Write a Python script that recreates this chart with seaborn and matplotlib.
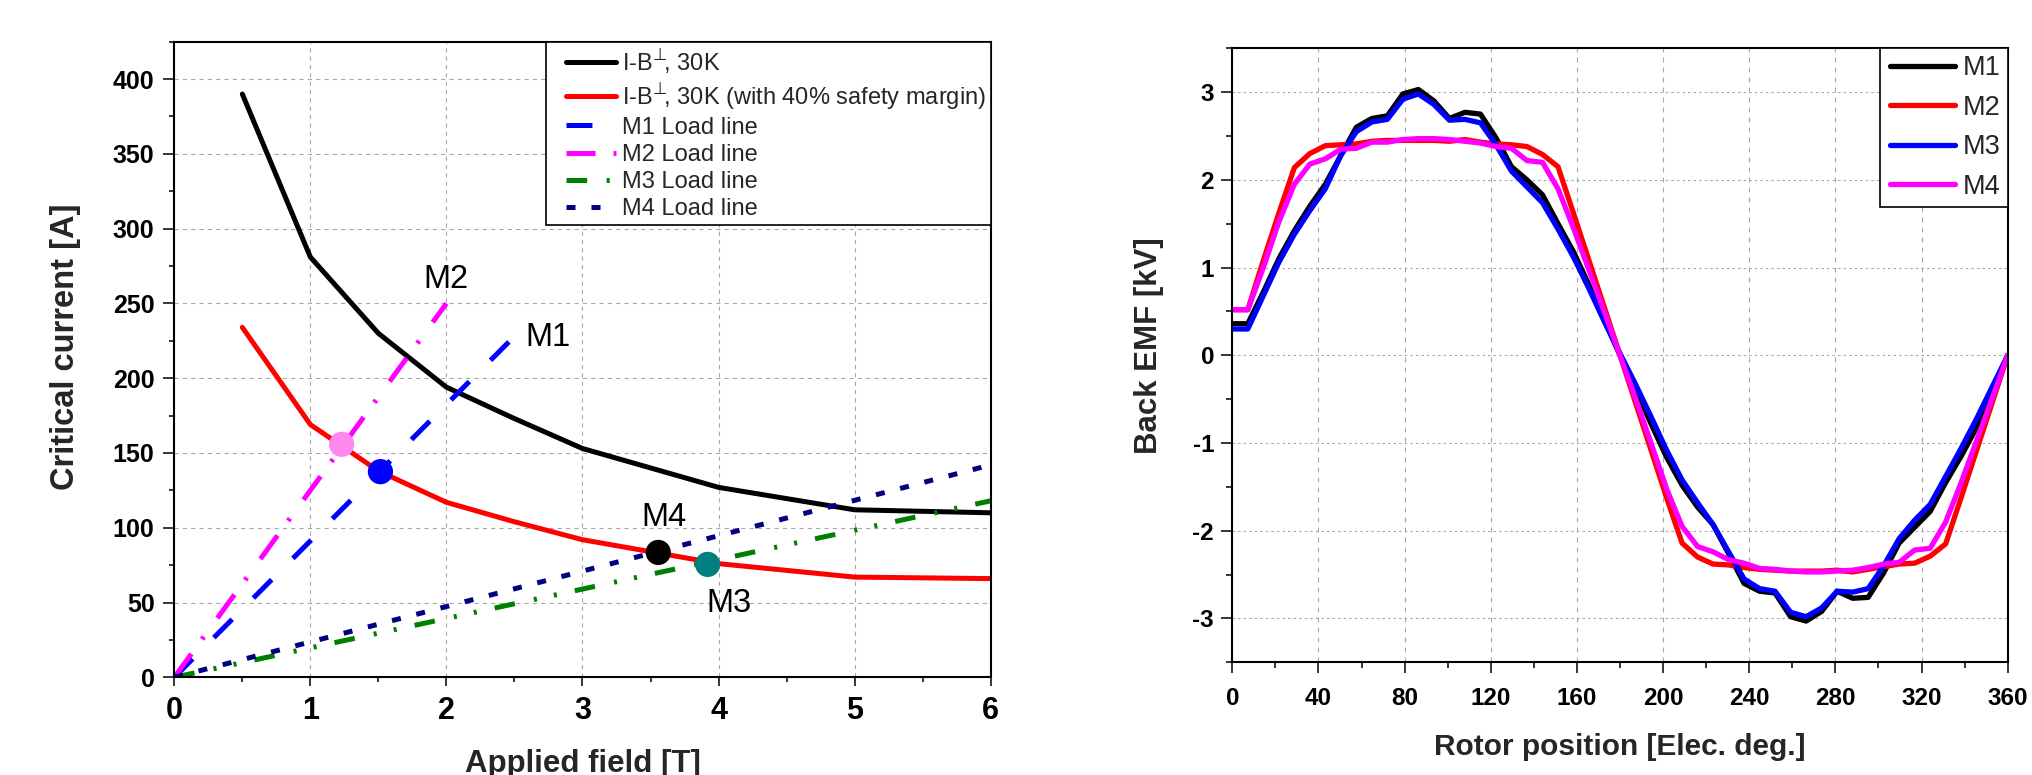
import matplotlib
matplotlib.use("Agg")
import matplotlib.pyplot as plt
import seaborn as sns
import pandas as pd
from matplotlib.lines import Line2D
from matplotlib.legend_handler import HandlerLine2D
from matplotlib.ticker import MultipleLocator

# ---------------- data: left panel ----------------
field_T = [0.5, 1, 1.5, 2, 2.5, 3, 3.5, 4, 5, 6]
ic_30K = [390, 281, 230, 194, 173, 153, 140, 127, 112, 110]
ic_30K_margin = [234, 169, 138, 117, 104, 92, 84, 76, 67, 66]

m1_load_x = [0, 2.5]
m1_load_y = [0, 228]
m2_load_x = [0, 2.0]
m2_load_y = [0, 250]
m3_load_x = [0, 6.0]
m3_load_y = [0, 118]
m4_load_x = [0, 6.0]
m4_load_y = [0, 142]

op_names = ["M1", "M2", "M3", "M4"]
op_x = [1.515, 1.23, 3.92, 3.557]
op_y = [137.5, 155.8, 75.5, 83.5]

label_x = [2.75, 2.0, 4.08, 3.6]
label_y = [227, 266, 49.6, 107]

legend_left = [
    "I-$\\mathregular{B}^{\\!\\bot}\\!\\!$, 30K",
    "I-$\\mathregular{B}^{\\!\\bot}\\!\\!$, 30K (with 40% safety margin)",
    "M1 Load line",
    "M2 Load line",
    "M3 Load line",
    "M4 Load line",
]

# ---------------- data: right panel ----------------
angle_deg = [0, 7.2, 14.4, 21.6, 28.8, 36, 43.2, 50.4, 57.6, 64.8, 72, 79.2,
             86.4, 93.6, 100.8, 108, 115.2, 122.4, 129.6, 136.8, 144, 151.2,
             158.4, 165.6, 172.8, 180, 187.2, 194.4, 201.6, 208.8, 216, 223.2,
             230.4, 237.6, 244.8, 252, 259.2, 266.4, 273.6, 280.8, 288, 295.2,
             302.4, 309.6, 316.8, 324, 331.2, 338.4, 345.6, 352.8, 360]

emf_m1 = [0.36, 0.36, 0.72, 1.10, 1.42, 1.70, 1.95, 2.28, 2.60, 2.70, 2.73, 2.98,
          3.03, 2.90, 2.70, 2.77, 2.75, 2.48, 2.15, 2.00, 1.83, 1.50, 1.18, 0.80,
          0.40, 0.00,
          -0.38, -0.78, -1.16, -1.48, -1.73, -1.93, -2.26, -2.60, -2.69, -2.71,
          -2.98, -3.03, -2.92, -2.69, -2.77, -2.76, -2.48, -2.14, -1.96, -1.78,
          -1.45, -1.15, -0.82, -0.45, 0.00]
emf_m2 = [0.52, 0.52, 1.08, 1.62, 2.14, 2.30, 2.39, 2.40, 2.41, 2.44, 2.45, 2.45,
          2.45, 2.45, 2.44, 2.46, 2.43, 2.41, 2.40, 2.38, 2.29, 2.15, 1.62, 1.08,
          0.54, 0.00,
          -0.54, -1.08, -1.62, -2.14, -2.30, -2.38, -2.39, -2.42, -2.44, -2.45,
          -2.46, -2.46, -2.46, -2.45, -2.47, -2.44, -2.41, -2.38, -2.37, -2.29,
          -2.15, -1.62, -1.08, -0.54, 0.00]
emf_m3 = [0.30, 0.30, 0.68, 1.06, 1.38, 1.65, 1.90, 2.28, 2.55, 2.66, 2.69, 2.92,
          2.98, 2.86, 2.68, 2.69, 2.65, 2.40, 2.10, 1.92, 1.74, 1.44, 1.12, 0.76,
          0.38, 0.02,
          -0.33, -0.70, -1.08, -1.42, -1.68, -1.93, -2.24, -2.55, -2.66, -2.69,
          -2.93, -2.98, -2.88, -2.69, -2.70, -2.66, -2.40, -2.09, -1.88, -1.70,
          -1.38, -1.06, -0.72, -0.36, 0.00]
emf_m4 = [0.52, 0.52, 1.00, 1.52, 1.95, 2.18, 2.24, 2.35, 2.36, 2.43, 2.43, 2.46,
          2.47, 2.47, 2.46, 2.44, 2.42, 2.38, 2.36, 2.22, 2.20, 1.90, 1.45, 0.97,
          0.49, 0.00,
          -0.49, -1.00, -1.52, -1.95, -2.18, -2.24, -2.33, -2.37, -2.43, -2.44,
          -2.46, -2.47, -2.47, -2.46, -2.45, -2.42, -2.38, -2.36, -2.22, -2.20,
          -1.90, -1.45, -0.97, -0.49, 0.00]
motor_names = ["M1", "M2", "M3", "M4"]

# ---------------- style ----------------
sns.set_style("ticks")
plt.rcParams["font.family"] = ["Liberation Sans", "DejaVu Sans"]
plt.rcParams["mathtext.fontset"] = "dejavusans"
plt.rcParams["lines.scale_dashes"] = False
plt.rcParams["axes.edgecolor"] = "black"
plt.rcParams["xtick.color"] = "black"
plt.rcParams["ytick.color"] = "black"

fig = plt.figure(figsize=(20.33, 7.75), dpi=100)
ax1 = fig.add_axes([0.08573, 0.12606, 0.40157, 0.82013])
ax2 = fig.add_axes([0.60615, 0.14542, 0.38141, 0.79226])

LW = 3.6
GRID_C = "#a8a8a8"

# ---------------- left panel ----------------
sns.lineplot(x=field_T, y=ic_30K, ax=ax1, color="black", linewidth=LW, legend=False)
sns.lineplot(x=field_T, y=ic_30K_margin, ax=ax1, color="#ff0000", linewidth=LW, legend=False)
sns.lineplot(x=m1_load_x, y=m1_load_y, ax=ax1, color="#0000ff", linewidth=LW,
             linestyle=(0, (18.7, 21.6)), legend=False)
sns.lineplot(x=m2_load_x, y=m2_load_y, ax=ax1, color="#ff00ff", linewidth=LW,
             linestyle=(0, (20.9, 13.0, 2.2, 16.6)), legend=False)
sns.lineplot(x=m3_load_x, y=m3_load_y, ax=ax1, color="#008000", linewidth=LW,
             linestyle=(0, (14.9, 14.0, 2.2, 12.5, 2.2, 13.2)), legend=False)
sns.lineplot(x=m4_load_x, y=m4_load_y, ax=ax1, color="#000080", linewidth=LW,
             linestyle=(0, (6.5, 11.5)), legend=False)
left_lines = list(ax1.get_lines())[:6]

ops = pd.DataFrame({"x": op_x, "y": op_y, "name": op_names})
sns.scatterplot(data=ops, x="x", y="y", hue="name", ax=ax1,
                palette={"M1": "#0000ff", "M2": "#ff88ee", "M3": "#008080", "M4": "black"},
                s=330, linewidth=0, legend=False, zorder=5)

for n, tx, ty in zip(op_names, label_x, label_y):
    ax1.text(tx, ty, n, fontsize=23.5, ha="center", va="center", color="black")

ax1.set_xlim(0, 6)
ax1.set_ylim(0, 425)
ax1.set_xticks(range(0, 7), [str(v) for v in range(0, 7)], fontweight="bold", fontsize=22)
ax1.set_yticks(range(0, 401, 50), [str(v) for v in range(0, 401, 50)],
               fontweight="bold", fontsize=18)
ax1.xaxis.set_minor_locator(MultipleLocator(0.5))
ax1.yaxis.set_minor_locator(MultipleLocator(25))
ax1.tick_params(which="both", direction="out", top=False, right=False, width=1.1)
ax1.tick_params(axis="x", which="major", length=6.7, pad=6.8)
ax1.tick_params(axis="y", which="major", length=7.9, pad=6.3)
ax1.tick_params(which="minor", length=3.9)
ax1.grid(True, which="major", color=GRID_C, linewidth=0.8, linestyle=(0, (3, 3)))
ax1.set_axisbelow(True)
for s in ax1.spines.values():
    s.set_visible(True)
    s.set_color("black")
    s.set_linewidth(1.5)

ax1.set_xlabel("Applied field [T]", fontsize=22.5, fontweight="bold")
ax1.set_ylabel("Critical current [A]", fontsize=23.5, fontweight="bold", va="center")
ax1.xaxis.set_label_coords(0.5, -0.1128)
ax1.yaxis.set_label_coords(-0.1327, 0.52)

leg1 = ax1.legend(left_lines, legend_left, loc="upper right", bbox_to_anchor=(1, 1),
                  borderaxespad=0, fontsize=17, frameon=True, fancybox=False,
                  framealpha=1, edgecolor="black", borderpad=0.22,
                  labelspacing=0.22, handlelength=2.75, handletextpad=0.25,
                  handler_map={Line2D: HandlerLine2D(xpad=0.64)})
leg1.get_frame().set_linewidth(1.2)

# ---------------- right panel ----------------
emf_df = pd.DataFrame({
    "angle": angle_deg * 4,
    "emf": emf_m1 + emf_m2 + emf_m3 + emf_m4,
    "motor": sum([[m] * len(angle_deg) for m in motor_names], []),
})
pal = {"M1": "black", "M2": "#ff0000", "M3": "#0000ff", "M4": "#ff00ff"}
sns.lineplot(data=emf_df, x="angle", y="emf", hue="motor", palette=pal,
             hue_order=motor_names, linewidth=3.8, ax=ax2, legend=False,
             estimator=None, sort=False)

ax2.set_xlim(0, 360)
ax2.set_ylim(-3.5, 3.5)
ax2.set_xticks(range(0, 361, 40), [str(v) for v in range(0, 361, 40)],
               fontweight="bold", fontsize=17.5)
ax2.set_yticks(range(-3, 4), [str(v) for v in range(-3, 4)],
               fontweight="bold", fontsize=17.5)
ax2.xaxis.set_minor_locator(MultipleLocator(20))
ax2.yaxis.set_minor_locator(MultipleLocator(0.5))
ax2.tick_params(which="both", direction="out", top=False, right=False, width=1.1)
ax2.tick_params(axis="x", which="major", length=7.9, pad=9.6)
ax2.tick_params(axis="y", which="major", length=7.6, pad=5.5)
ax2.tick_params(which="minor", length=4.2)
ax2.xaxis.grid(True, color=GRID_C, linewidth=0.8, linestyle=(0, (3.6, 3.6)))
ax2.yaxis.grid(True, color=GRID_C, linewidth=0.8, linestyle=(0, (1.8, 2.2)))
ax2.set_axisbelow(True)
for s in ax2.spines.values():
    s.set_visible(True)
    s.set_color("black")
    s.set_linewidth(1.5)

ax2.set_xlabel("Rotor position [Elec. deg.]", fontsize=21.5, fontweight="bold")
ax2.set_ylabel("Back EMF [kV]", fontsize=22.5, fontweight="bold", va="center")
ax2.xaxis.set_label_coords(0.5, -0.1155)
ax2.yaxis.set_label_coords(-0.1074, 0.515)

handles2 = [Line2D([], [], color=pal[m], linewidth=3.8) for m in motor_names]
leg2 = ax2.legend(handles2, motor_names, loc="upper right", bbox_to_anchor=(1, 1),
                  borderaxespad=0, fontsize=19.5, frameon=True, fancybox=False,
                  framealpha=1, edgecolor="black", borderpad=0.26,
                  labelspacing=0.5, handlelength=2.5, handletextpad=0.3,
                  handler_map={Line2D: HandlerLine2D(xpad=0.1)})
leg2.get_frame().set_linewidth(1.2)

fig.savefig("out.png", dpi=100)
